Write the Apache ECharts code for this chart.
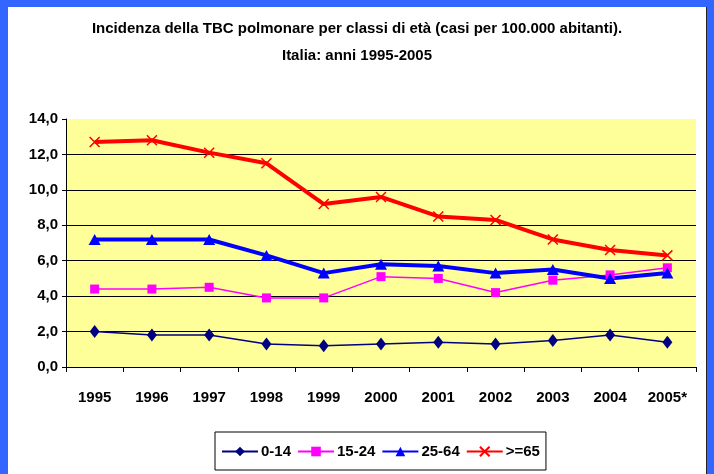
<!DOCTYPE html>
<html><head><meta charset="utf-8">
<script src="https://cdn.jsdelivr.net/npm/echarts@6/dist/echarts.min.js"></script>
<style>
html,body{margin:0;padding:0;width:714px;height:474px;overflow:hidden;background:#3366FF;}
#panel{position:absolute;left:8px;top:7px;width:698px;height:480px;background:#fff;border-right:1px solid #222;}
#chart{position:absolute;left:0;top:0;width:714px;height:474px;}
</style></head>
<body><div id="panel"></div><div id="chart"></div>
<script>
const categories = ['1995','1996','1997','1998','1999','2000','2001','2002','2003','2004','2005*'];
const s0_14  = [2.0, 1.8, 1.8, 1.3, 1.2, 1.3, 1.4, 1.3, 1.5, 1.8, 1.4];
const s15_24 = [4.4, 4.4, 4.5, 3.9, 3.9, 5.1, 5.0, 4.2, 4.9, 5.2, 5.6];
const s25_64 = [7.2, 7.2, 7.2, 6.3, 5.3, 5.8, 5.7, 5.3, 5.5, 5.0, 5.3];
const s65    = [12.7, 12.8, 12.1, 11.5, 9.2, 9.6, 8.5, 8.3, 7.2, 6.6, 6.3];
const seriesNames = ['0-14','15-24','25-64','>=65'];
const titleLines = ['Incidenza della TBC polmonare per classi di età (casi per 100.000 abitanti).','Italia: anni 1995-2005'];

const FONT = '"Liberation Sans Narrow", "Arial Narrow", "Liberation Sans", sans-serif';
const chart = echarts.init(document.getElementById('chart'));
chart.setOption({
  animation:false,
  textStyle:{fontFamily:FONT},
  title:{
    text:titleLines.join('\n'), left:'center', top:10,
    textStyle:{fontFamily:FONT,fontWeight:'bold',fontSize:15,color:'#000',lineHeight:27}
  },
  legend:{
    bottom:4, left:215,
    backgroundColor:'#fff', borderColor:'#000', borderWidth:1,
    padding:[12,6,11,6], itemGap:6, itemWidth:36, itemHeight:12,
    textStyle:{fontFamily:FONT,fontWeight:'bold',fontSize:15,color:'#000',padding:[0,0,0,-2]},
    data:seriesNames
  },
  grid:{left:66,right:18,top:119,bottom:107,show:true,backgroundColor:'#FFFF99',borderWidth:0},
  xAxis:{
    type:'category', data:categories, boundaryGap:true,
    axisLine:{lineStyle:{color:'#000',width:1}},
    axisTick:{show:true,length:5,lineStyle:{color:'#000'}},
    axisLabel:{margin:23,color:'#000',fontWeight:'bold',fontSize:15,fontFamily:FONT,interval:0}
  },
  yAxis:{
    type:'value', min:0, max:14, interval:2,
    axisLine:{show:true,lineStyle:{color:'#000',width:1}},
    axisTick:{show:true,length:4,lineStyle:{color:'#000'}},
    axisLabel:{margin:8,color:'#000',fontWeight:'bold',fontSize:15,fontFamily:FONT,
      formatter:v=>v.toFixed(1).replace('.',',')},
    splitLine:{show:true,lineStyle:{color:['#000','#000','#000','#000','#000','#000','#000','transparent'],width:1}}
  },
  series:[
    {name:seriesNames[0],type:'line',data:s0_14,symbol:'diamond',symbolSize:[10,13],
     lineStyle:{color:'#000080',width:1.5},itemStyle:{color:'#000080'}},
    {name:seriesNames[1],type:'line',data:s15_24,symbol:'rect',symbolSize:9,
     lineStyle:{color:'#FF00FF',width:1.5},itemStyle:{color:'#FF00FF'}},
    {name:seriesNames[2],type:'line',data:s25_64,symbol:'triangle',symbolSize:[12,11],
     lineStyle:{color:'#0000FF',width:4},itemStyle:{color:'#0000FF'}},
    {name:seriesNames[3],type:'line',data:s65,symbol:'path://M0,0L10,10M10,0L0,10',symbolSize:10,
     lineStyle:{color:'#FF0000',width:4},itemStyle:{color:'transparent',borderColor:'#FF0000',borderWidth:1.5}}
  ]
});
</script></body></html>
